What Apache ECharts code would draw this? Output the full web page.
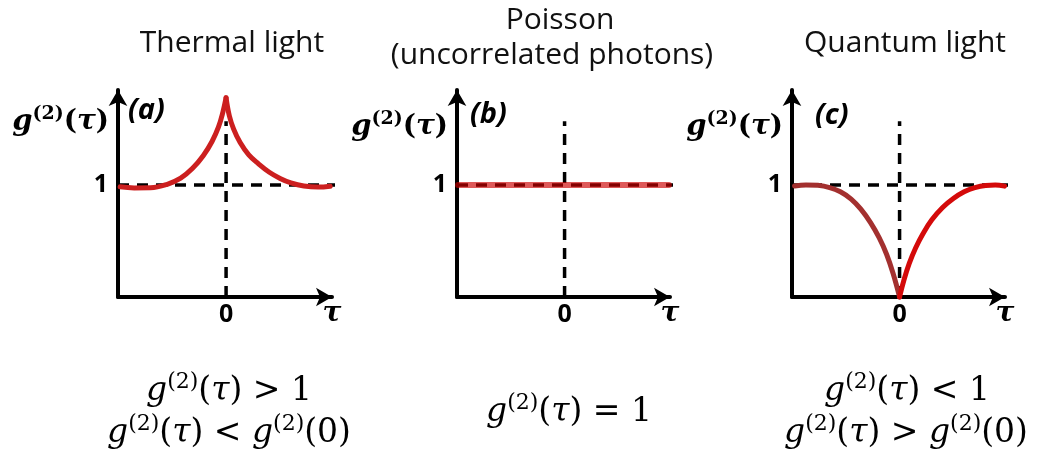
<!DOCTYPE html>
<html>
<head>
<meta charset="utf-8">
<script src="https://cdn.jsdelivr.net/npm/echarts@6/dist/echarts.min.js"></script>
<style>
  html, body { margin: 0; padding: 0; background: #ffffff; }
  #chart { width: 1041px; height: 459px; }
</style>
</head>
<body>
<div id="chart"></div>
<script>
// Delay axis range shared by the three panels (arbitrary units, tau = 0 at the centre)
const tauRange = [-1, 0.98];
const g2Range = [0, 1.85];
const refLevel = 1;          // g2 = 1 reference
const zeroLineTop = 1.57;    // top of the dashed tau = 0 marker
const refLineStart = -1;
const refLineEnd = 1.055;    // reference runs out to the arrow tip

// (a) Thermal light: bunching peak at tau = 0
const thermalTauLeft = [-0.98, -0.85, -0.70, -0.55, -0.42, -0.31, -0.21, -0.13, -0.07, -0.03, 0];
const thermalG2Left = [0.985, 0.975, 0.976, 1.005, 1.062, 1.15, 1.265, 1.39, 1.52, 1.65, 1.78];
const thermalTauRight = [0, 0.03, 0.07, 0.13, 0.21, 0.30, 0.40, 0.50, 0.60, 0.72, 0.85, 0.963];
const thermalG2Right = [1.78, 1.62, 1.50, 1.38, 1.27, 1.19, 1.115, 1.06, 1.02, 0.992, 0.982, 0.99];

// (b) Poisson light: flat at 1
const poissonTau = [-0.99, 0.97];
const poissonG2 = [1, 1];

// (c) Quantum light: antibunching dip down to 0 at tau = 0
const quantumTauLeft = [-0.976, -0.87, -0.76, -0.65, -0.55, -0.45, -0.36, -0.27, -0.19, -0.12, -0.06, 0];
const quantumG2Left = [0.992, 1.002, 0.998, 0.978, 0.94, 0.875, 0.785, 0.665, 0.53, 0.38, 0.21, 0];
const quantumTauRight = [0, 0.04, 0.09, 0.15, 0.22, 0.30, 0.40, 0.50, 0.60, 0.70, 0.80, 0.89, 0.976];
const quantumG2Right = [0, 0.15, 0.30, 0.44, 0.57, 0.69, 0.80, 0.88, 0.94, 0.978, 0.997, 1.0, 0.991];

// Tick labels
const yTickValues = [1];
const xTickValues = [0];

// Texts
const panelTitles = [['Thermal light'], ['Poisson', '(uncorrelated photons)'], ['Quantum light']];
const panelTags = ['(a)', '(b)', '(c)'];

const zip = (xs, ys) => xs.map((x, i) => [x, ys[i]]);

const chart = echarts.init(document.getElementById('chart'), null, { renderer: 'canvas' });

const gridBoxes = [
  { left: 118, top: 90, width: 214, height: 207 },
  { left: 457, top: 90, width: 213, height: 207 },
  { left: 792, top: 90, width: 213, height: 207 }
];

const serif = '"DejaVu Serif", "Liberation Serif", serif';
const sans = '"Open Sans", "Noto Sans", sans-serif';

// y-axis name g^(2)(tau), bold
const nameRich = {
  g: { fontFamily: serif, fontStyle: 'italic', fontWeight: 'bold', fontSize: 29, lineHeight: 34, color: '#000' },
  s: { fontFamily: serif, fontWeight: 'bold', fontSize: 19, verticalAlign: 'top', color: '#000' },
  p: { fontFamily: serif, fontWeight: 'bold', fontSize: 28, lineHeight: 34, color: '#000' },
  t: { fontFamily: serif, fontStyle: 'italic', fontWeight: 'bold', fontSize: 28, lineHeight: 34, color: '#000' }
};
const g2Name = '{g|g}{s|(2)}{p|(}{t|τ}{p|)}';
const nameGaps = [-32, -37, -37];

const xAxes = gridBoxes.map((_, i) => ({
  type: 'value',
  gridIndex: i,
  min: tauRange[0],
  max: tauRange[1],
  name: 'τ',
  nameLocation: 'end',
  nameGap: 0,
  nameTextStyle: {
    fontFamily: serif, fontStyle: 'italic', fontWeight: 'bold', fontSize: 28,
    color: '#000', align: 'center', verticalAlign: 'top', padding: [3, 0, 0, 0]
  },
  axisLine: {
    show: true, onZero: false,
    symbol: ['none', 'arrow'], symbolSize: [14, 16],
    lineStyle: { color: '#000', width: 4 }
  },
  axisTick: { show: false },
  splitLine: { show: false },
  axisLabel: {
    customValues: xTickValues, margin: 5,
    fontFamily: sans, fontWeight: 'bold', fontSize: 25, color: '#000'
  }
}));

const yAxes = gridBoxes.map((_, i) => ({
  type: 'value',
  gridIndex: i,
  min: g2Range[0],
  max: g2Range[1],
  name: g2Name,
  nameLocation: 'end',
  nameGap: nameGaps[i],
  nameTextStyle: { align: 'right', verticalAlign: 'middle', padding: [0, 9, 0, 0], rich: nameRich },
  axisLine: {
    show: true, onZero: false,
    symbol: ['none', 'arrow'], symbolSize: [14, 16],
    lineStyle: { color: '#000', width: 4 }
  },
  axisTick: { show: false },
  splitLine: { show: false },
  axisLabel: {
    customValues: yTickValues, margin: 10,
    fontFamily: sans, fontWeight: 'bold', fontSize: 25, color: '#000'
  }
}));

const dashStyle = { color: '#000', width: 3.5, type: [11, 8] };

function refLines(i) {
  return [
    {
      type: 'line', xAxisIndex: i, yAxisIndex: i, z: 2, clip: false,
      data: [[refLineStart, refLevel], [refLineEnd, refLevel]],
      showSymbol: false, silent: true, lineStyle: dashStyle
    },
    {
      type: 'line', xAxisIndex: i, yAxisIndex: i, z: 2, clip: false,
      data: [[0, 0], [0, zeroLineTop]],
      showSymbol: false, silent: true, lineStyle: dashStyle
    }
  ];
}

function curve(i, data, color, width, opacity) {
  return {
    type: 'line', xAxisIndex: i, yAxisIndex: i, z: 3, clip: false,
    data: data, smooth: 0.4, showSymbol: false, silent: true,
    lineStyle: { color: color, width: width, opacity: opacity, cap: 'round', join: 'round' }
  };
}

const series = [
  ...refLines(0),
  curve(0, zip(thermalTauLeft, thermalG2Left), '#cc1f1f', 5, 1),
  curve(0, zip(thermalTauRight, thermalG2Right), '#cc1f1f', 5, 1),
  ...refLines(1),
  curve(1, zip(poissonTau, poissonG2), '#cc0000', 6, 0.65),
  ...refLines(2),
  curve(2, zip(quantumTauLeft, quantumG2Left), '#a3302f', 5, 1),
  curve(2, zip(quantumTauRight, quantumG2Right), '#d40a0a', 5, 1)
];

// Condition formulas under each panel
const fRich = {
  g: { fontFamily: serif, fontStyle: 'italic', fontSize: 33, lineHeight: 40, color: '#000' },
  s: { fontFamily: serif, fontSize: 22, verticalAlign: 'top', color: '#000' },
  u: { fontFamily: serif, fontSize: 33, lineHeight: 40, color: '#000' },
  t: { fontFamily: serif, fontStyle: 'italic', fontSize: 33, lineHeight: 40, color: '#000' }
};
const g2Of = (arg) => '{g|g}{s|(2)}{u|(}' + arg + '{u|)}';
const atTau = g2Of('{t|τ}');
const atZero = g2Of('{u|0}');
const conditions = [
  { x: 229, y: 391, text: atTau + '{u| > 1}' },
  { x: 229, y: 433, text: atTau + '{u| < }' + atZero },
  { x: 569, y: 412, text: atTau + '{u| = 1}' },
  { x: 907, y: 391, text: atTau + '{u| < 1}' },
  { x: 906, y: 433, text: atTau + '{u| > }' + atZero }
];

const titleSpots = [[[232, 43]], [[560, 20], [552, 55]], [[905, 43]]];
const tagSpots = [[128, 111], [470, 115], [815, 116]];

const graphics = [];
panelTitles.forEach((lines, i) => {
  lines.forEach((line, j) => {
    graphics.push({
      type: 'text', x: titleSpots[i][j][0], y: titleSpots[i][j][1], silent: true,
      style: { text: line, font: '30px ' + sans, fill: '#111', align: 'center', verticalAlign: 'middle' }
    });
  });
});
panelTags.forEach((tag, i) => {
  graphics.push({
    type: 'text', x: tagSpots[i][0], y: tagSpots[i][1], silent: true,
    style: { text: tag, font: 'italic bold 29px ' + sans, fill: '#000', align: 'left', verticalAlign: 'middle' }
  });
});
conditions.forEach((c) => {
  graphics.push({
    type: 'text', x: c.x, y: c.y, silent: true,
    style: { text: c.text, rich: fRich, align: 'center', verticalAlign: 'middle', fill: '#000' }
  });
});

chart.setOption({
  animation: false,
  backgroundColor: '#ffffff',
  grid: gridBoxes.map((b) => Object.assign({ containLabel: false }, b)),
  xAxis: xAxes,
  yAxis: yAxes,
  series: series,
  graphic: graphics
});
</script>
</body>
</html>
